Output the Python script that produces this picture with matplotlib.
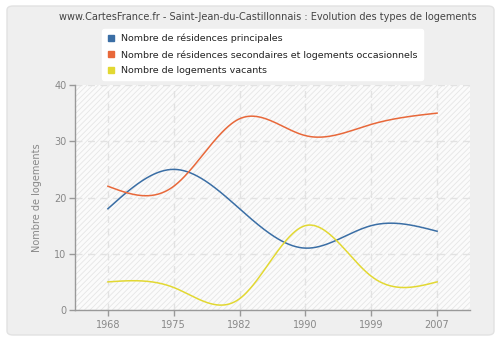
import matplotlib
matplotlib.use("Agg")
import matplotlib.pyplot as plt
import numpy as np
from matplotlib.patches import FancyBboxPatch, Rectangle
from matplotlib.lines import Line2D

years = ["1968", "1975", "1982", "1990", "1999", "2007"]
principales = [18, 25, 18, 11, 15, 14]
secondaires = [22, 22, 34, 31, 33, 35]
vacants = [5, 4, 2, 15, 6, 5]

labels = [
    "Nombre de résidences principales",
    "Nombre de résidences secondaires et logements occasionnels",
    "Nombre de logements vacants",
]
colors = ["#3a6ea5", "#e8683a", "#e2d832"]
title = "www.CartesFrance.fr - Saint-Jean-du-Castillonnais : Evolution des types de logements"


def natural_spline(xs, ys, n=400):
    # natural cubic spline through the points (rendering only)
    xs = np.asarray(xs, float)
    ys = np.asarray(ys, float)
    k = len(xs)
    h = np.diff(xs)
    A = np.zeros((k, k))
    b = np.zeros(k)
    A[0, 0] = A[-1, -1] = 1
    for i in range(1, k - 1):
        A[i, i - 1] = h[i - 1]
        A[i, i] = 2 * (h[i - 1] + h[i])
        A[i, i + 1] = h[i]
        b[i] = 6 * ((ys[i + 1] - ys[i]) / h[i] - (ys[i] - ys[i - 1]) / h[i - 1])
    m = np.linalg.solve(A, b)
    xx = np.linspace(xs[0], xs[-1], n)
    idx = np.clip(np.searchsorted(xs, xx) - 1, 0, k - 2)
    x0, x1 = xs[idx], xs[idx + 1]
    hh = x1 - x0
    t0, t1 = x1 - xx, xx - x0
    yy = (m[idx] * t0 ** 3 + m[idx + 1] * t1 ** 3) / (6 * hh) \
        + (ys[idx] / hh - m[idx] * hh / 6) * t0 \
        + (ys[idx + 1] / hh - m[idx + 1] * hh / 6) * t1
    return xx, yy


plt.rcParams["hatch.linewidth"] = 0.6
fig = plt.figure(figsize=(5, 3.4), dpi=100, facecolor="white")

# outer panel
panel = FancyBboxPatch((7 / 500, 5 / 340), 487 / 500, 329 / 340,
                       boxstyle="round,pad=0,rounding_size=0.012",
                       transform=fig.transFigure, facecolor="#efefef",
                       edgecolor="#e2e2e2", linewidth=1, zorder=-10)
fig.patches.append(panel)

ax = fig.add_axes([75 / 500, 30 / 340, 395 / 500, 225 / 340], zorder=2)
ax.set_facecolor("white")
ax.add_patch(Rectangle((0, 0), 1, 1, transform=ax.transAxes, facecolor="#fbfbfb",
                       edgecolor="#e6e6e6", hatch="//////", linewidth=0, zorder=0))

x = np.arange(len(years))
for vals, col in zip([principales, secondaires, vacants], colors):
    xx, yy = natural_spline(x, vals)
    ax.plot(xx, yy, color=col, linewidth=1.1, zorder=3)

ax.set_xlim(-0.5, 5.5)
ax.set_ylim(0, 40)
ax.set_xticks(x)
ax.set_xticklabels(years)
ax.set_yticks([0, 10, 20, 30, 40])
ax.grid(True, color="#e2e2e2", linestyle=(0, (5, 4)), linewidth=1, zorder=1)
ax.set_axisbelow(True)
for s in ["top", "right"]:
    ax.spines[s].set_visible(False)
for s in ["left", "bottom"]:
    ax.spines[s].set_color("#999999")
    ax.spines[s].set_linewidth(1)
ax.tick_params(colors="#999999", labelcolor="#888888", labelsize=7, length=4, width=1)
ax.tick_params(axis="x", pad=3)
ax.tick_params(axis="y", pad=2)
ax.set_ylabel("Nombre de logements", color="#888888", fontsize=7, labelpad=9)

fig.text(0.535, 1 - 17 / 340, title, ha="center", va="center", fontsize=7, color="#444444")

handles = [Line2D([], [], marker="s", linestyle="none", markersize=4.5,
                  markerfacecolor=c, markeredgecolor=c) for c in colors]
leg = fig.legend(handles, labels, loc="upper left", bbox_to_anchor=(97 / 500, 1 - 24 / 340),
                 frameon=True, fontsize=6.8, handlelength=0.8, handletextpad=0.7,
                 labelspacing=0.7, borderpad=0.55, fancybox=True)
leg.set_zorder(5)
leg.get_frame().set_facecolor("white")
leg.get_frame().set_edgecolor("white")
leg.get_frame().set_alpha(1)
for t in leg.get_texts():
    t.set_color("#222222")

fig.savefig("out.png", dpi=100, facecolor="white")
